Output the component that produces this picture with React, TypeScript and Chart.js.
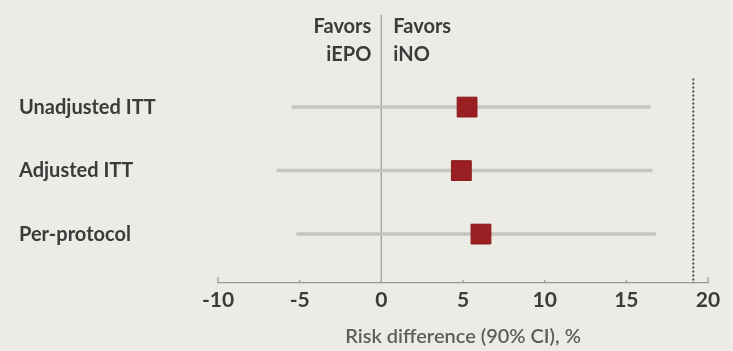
import React, { useEffect, useRef } from "react";
import { Chart, registerables } from "chart.js";

Chart.register(...registerables);

const rowLabels = ["Unadjusted ITT", "Adjusted ITT", "Per-protocol"];
const estimates = [5.25, 4.9, 6.1];
const lowerCI = [-5.5, -6.4, -5.2];
const upperCI = [16.5, 16.6, 16.8];
const marginValue = 19.1;
const xTicks = [-10, -5, 0, 5, 10, 15, 20];
const favorLeft = ["Favors", "iEPO"];
const favorRight = ["Favors", "iNO"];
const axisTitle = "Risk difference (90% CI), %";

const FONT = "Lato, 'Open Sans', sans-serif";
const TEXT = "#3b3b3b";
const BG = "#ecebe5";

export default function App() {
  const ref = useRef<HTMLCanvasElement | null>(null);

  useEffect(() => {
    const canvas = ref.current;
    if (!canvas) return;
    const yMin = -0.45;
    const yMax = 3.77;

    const ciSets = rowLabels.map((_, i) => ({
      type: "line" as const,
      data: [
        { x: lowerCI[i], y: i + 1 },
        { x: upperCI[i], y: i + 1 },
      ],
      borderColor: "#c6c6be",
      borderWidth: 3.5,
      pointRadius: 0,
      showLine: true,
      order: 3,
    }));

    const extras: any = {
      id: "extras",
      beforeDatasetsDraw(chart: any) {
        const { ctx, chartArea, scales } = chart;
        const x = scales.x;
        ctx.save();
        ctx.strokeStyle = "#9a9a94";
        ctx.lineWidth = 1.2;
        xTicks.forEach((t, i) => {
          const px = x.getPixelForValue(t);
          const len = i === 0 || i === xTicks.length - 1 ? 6 : 3;
          ctx.beginPath();
          ctx.moveTo(px, chartArea.bottom);
          ctx.lineTo(px, chartArea.bottom - len);
          ctx.stroke();
        });
        const zx = x.getPixelForValue(0);
        ctx.fillStyle = TEXT;
        ctx.font = `700 20px ${FONT}`;
        ctx.textBaseline = "middle";
        ctx.textAlign = "right";
        favorLeft.forEach((s, i) => ctx.fillText(s, zx - 10, chartArea.top + 12 + i * 28));
        ctx.textAlign = "left";
        favorRight.forEach((s, i) => ctx.fillText(s, zx + 12, chartArea.top + 12 + i * 28));
        ctx.restore();
      },
    };

    const chart = new Chart(canvas, {
      type: "scatter",
      data: {
        datasets: [
          {
            type: "line",
            data: [
              { x: 0, y: yMin },
              { x: 0, y: yMax },
            ],
            borderColor: "#a8a8a2",
            borderWidth: 1,
            pointRadius: 0,
            showLine: true,
            order: 4,
          } as any,
          {
            type: "line",
            data: [
              { x: marginValue, y: 0.55 },
              { x: marginValue, y: yMax },
            ],
            borderColor: "#4d4d48",
            borderWidth: 2,
            borderDash: [2, 2],
            pointRadius: 0,
            showLine: true,
            order: 4,
          } as any,
          ...(ciSets as any[]),
          {
            type: "scatter",
            data: estimates.map((v, i) => ({ x: v, y: i + 1 })),
            pointStyle: "rect",
            pointRadius: 14,
            backgroundColor: "#9a1f22",
            borderColor: "#8a1a1d",
            borderWidth: 1,
            order: 1,
          } as any,
        ],
      },
      options: {
        animation: false,
        responsive: false,
        events: [],
        layout: { padding: { left: 19, right: 25, top: 13, bottom: 0 } },
        plugins: {
          legend: { display: false },
          tooltip: { enabled: false },
        },
        scales: {
          x: {
            type: "linear",
            min: -10,
            max: 20,
            afterBuildTicks: (s: any) => {
              s.ticks = xTicks.map((v) => ({ value: v }));
            },
            afterFit: (s: any) => {
              s.height = 68;
            },
            grid: { display: false, drawTicks: false },
            border: { display: true, color: "#9a9a94", width: 1.2 },
            ticks: {
              padding: 5,
              color: TEXT,
              font: { family: FONT, size: 21, weight: "700" },
              maxRotation: 0,
            },
            title: {
              display: true,
              text: axisTitle,
              color: "#5e5e58",
              font: { family: FONT, size: 20, weight: "600" },
              padding: { top: 0, bottom: 2 },
            },
          },
          y: {
            type: "linear",
            reverse: true,
            min: yMin,
            max: yMax,
            afterBuildTicks: (s: any) => {
              s.ticks = rowLabels.map((_, i) => ({ value: i + 1 }));
            },
            afterFit: (s: any) => {
              s.width = 199;
            },
            grid: { display: false, drawTicks: false },
            border: { display: false },
            ticks: {
              crossAlign: "far",
              color: TEXT,
              font: { family: FONT, size: 20, weight: "700" },
              callback: (v: any) => rowLabels[Math.round(Number(v)) - 1] ?? "",
            },
          },
        },
      },
      plugins: [extras],
    } as any);

    return () => chart.destroy();
  }, []);

  return (
    <div style={{ position: "absolute", left: 0, top: 0, width: 733, height: 351, background: BG }}>
      <canvas ref={ref} width={733} height={351} style={{ width: 733, height: 351, display: "block" }} />
    </div>
  );
}
